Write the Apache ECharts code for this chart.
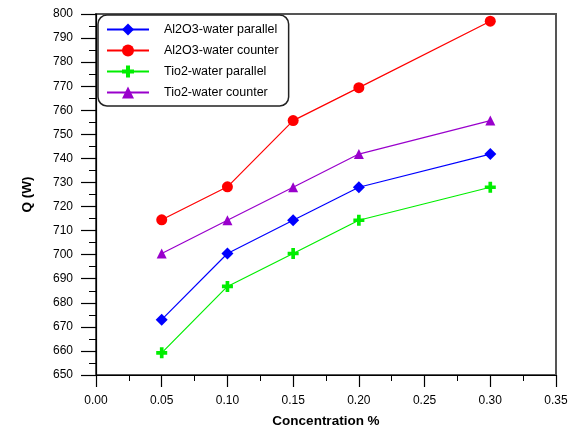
<!DOCTYPE html>
<html><head><meta charset="utf-8">
<script src="https://cdn.jsdelivr.net/npm/echarts@6/dist/echarts.min.js"></script>
<style>html,body{margin:0;padding:0;background:#fff}#c{width:576px;height:427px}</style>
</head><body><div id="c"></div>
<script>
const concentration = [0.05, 0.10, 0.15, 0.20, 0.30];
const al2o3Parallel = [673.0, 700.5, 714.3, 728.0, 741.8];
const al2o3Counter  = [714.5, 728.2, 755.7, 769.4, 797.0];
const tio2Parallel  = [659.2, 686.8, 700.5, 714.3, 728.0];
const tio2Counter   = [700.5, 714.3, 728.0, 741.8, 755.7];
const seriesNames = ['Al2O3-water parallel','Al2O3-water counter','Tio2-water parallel','Tio2-water counter'];

const plusPath = 'path://M4,0H8V4H12V8H8V12H4V8H0V4H4Z';
const font = 'Liberation Sans, Arial, sans-serif';
function pts(v){ return concentration.map((x,i)=>[x,v[i]]); }
function mk(name, data, color, symbol, size){
  return {name, type:'line', data:pts(data), symbol, symbolSize:size,
    lineStyle:{color, width:1.2}, itemStyle:{color}, animation:false, z:3};
}
const chart = echarts.init(document.getElementById('c'));
chart.setOption({
  animation:false,
  grid:{left:96, right:20, top:14, bottom:52, show:true, borderColor:'#555', borderWidth:2,
    containLabel:false, outerBoundsMode:'none'},
  legend:{
    orient:'vertical', left:98, top:15, backgroundColor:'#fff',
    borderColor:'#222', borderWidth:1.5, borderRadius:9,
    padding:[8,10,7,8], itemWidth:42, itemHeight:15, itemGap:8,
    textStyle:{fontFamily:font, fontSize:12.5, color:'#000', padding:[0,0,0,10]},
    data:seriesNames
  },
  xAxis:{type:'value', min:0, max:0.35, interval:0.05,
    axisLine:{lineStyle:{color:'#000', width:1.2}},
    axisTick:{length:12, lineStyle:{color:'#000', width:1.2}},
    minorTick:{show:true, splitNumber:2, length:6, lineStyle:{color:'#000', width:1}},
    splitLine:{show:false},
    axisLabel:{fontFamily:font, fontSize:12, color:'#000', margin:20, formatter:v=>v.toFixed(2)},
    name:'Concentration %', nameLocation:'middle', nameGap:39,
    nameTextStyle:{fontFamily:font, fontSize:13.5, fontWeight:'bold', color:'#000'}
  },
  yAxis:{type:'value', min:650, max:800, interval:10,
    axisLine:{show:true, lineStyle:{color:'#000', width:1.2}},
    axisTick:{show:true, length:15, lineStyle:{color:'#000', width:1.2}},
    minorTick:{show:true, splitNumber:2, length:7, lineStyle:{color:'#000', width:1}},
    splitLine:{show:false},
    axisLabel:{fontFamily:font, fontSize:12, color:'#000', margin:23},
    name:'Q (W)', nameLocation:'middle', nameGap:62,
    nameTextStyle:{fontFamily:font, fontSize:13.5, fontWeight:'bold', color:'#000'}
  },
  series:[
    mk(seriesNames[0], al2o3Parallel, '#0000ff', 'diamond', 12),
    mk(seriesNames[1], al2o3Counter, '#ff0000', 'circle', 11),
    mk(seriesNames[2], tio2Parallel, '#00ee00', plusPath, 11),
    mk(seriesNames[3], tio2Counter, '#9900cc', 'triangle', 10)
  ]
});
</script></body></html>
